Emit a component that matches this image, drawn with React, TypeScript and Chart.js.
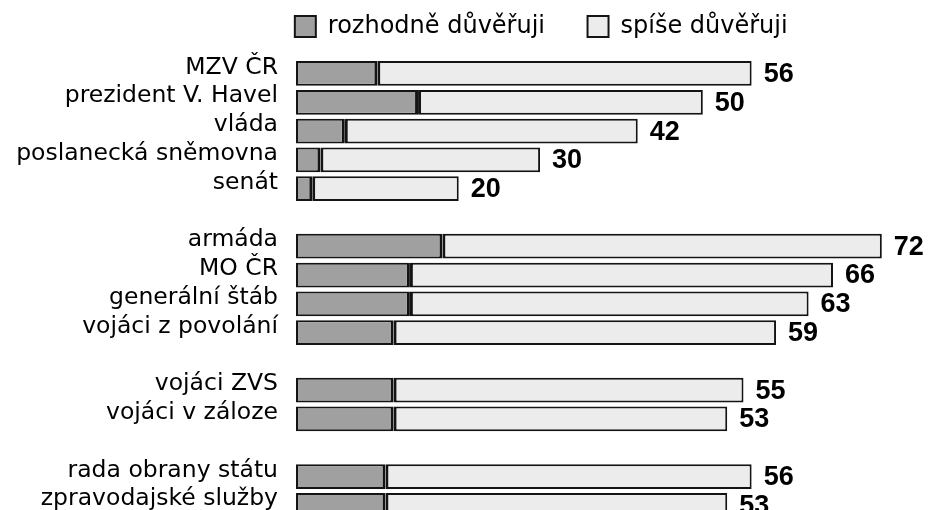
import React, { useEffect, useRef } from "react";
import { Chart, registerables } from "chart.js";

Chart.register(...registerables);

const categories: string[] = [
  "MZV ČR",
  "prezident V. Havel",
  "vláda",
  "poslanecká sněmovna",
  "senát",
  "",
  "armáda",
  "MO ČR",
  "generální štáb",
  "vojáci z povolání",
  "",
  "vojáci ZVS",
  "vojáci v záloze",
  "",
  "rada obrany státu",
  "zpravodajské služby",
];

const seriesNames: string[] = ["rozhodně důvěřuji", "spíše důvěřuji"];

const rozhodne: (number | null)[] = [10, 15, 6, 3, 2, null, 18, 14, 14, 12, null, 12, 12, null, 11, 11];
const spise: (number | null)[] = [46, 35, 36, 27, 18, null, 54, 52, 49, 47, null, 43, 41, null, 45, 42];
const totals: (number | null)[] = [56, 50, 42, 30, 20, null, 72, 66, 63, 59, null, 55, 53, null, 56, 53];

const totalLabelsPlugin = {
  id: "totalLabels",
  afterDatasetsDraw(chart: any) {
    const ctx = chart.ctx;
    const xs = chart.scales.x;
    const ys = chart.scales.y;
    ctx.save();
    ctx.font = "bold 27px 'Liberation Sans', Arial, sans-serif";
    ctx.fillStyle = "#000";
    ctx.textAlign = "left";
    ctx.textBaseline = "middle";
    totals.forEach((t, i) => {
      if (t == null) return;
      const x = xs.getPixelForValue(t);
      const y = ys.getPixelForValue(i);
      ctx.fillText(String(t), x + 12, y + 1);
    });
    ctx.restore();
  },
};

// shift the legend box so that it is centred where the original one is
const legendShiftPlugin = {
  id: "legendShift",
  afterLayout(chart: any) {
    if (chart.legend) {
      chart.legend.left = 160;
    }
  },
};

export default function App() {
  const ref = useRef<HTMLCanvasElement | null>(null);

  useEffect(() => {
    if (!ref.current) return;
    const chart = new Chart(ref.current, {
      type: "bar",
      data: {
        labels: categories,
        datasets: [
          {
            label: seriesNames[0],
            data: rozhodne,
            backgroundColor: "#a0a0a0",
            borderColor: "#141414",
            borderWidth: { left: 2, top: 2, bottom: 2, right: 3 },
            borderSkipped: false,
            inflateAmount: 0,
            barPercentage: 0.86,
            categoryPercentage: 1,
          },
          {
            label: seriesNames[1],
            data: spise,
            backgroundColor: "#ececec",
            borderColor: "#141414",
            borderWidth: { left: 3, top: 2, bottom: 2, right: 2 },
            borderSkipped: false,
            inflateAmount: 0,
            barPercentage: 0.86,
            categoryPercentage: 1,
          },
        ],
      },
      options: {
        indexAxis: "y",
        animation: false,
        responsive: false,
        devicePixelRatio: 1,
        layout: {
          padding: { left: 0, right: 5.5, top: 2.5, bottom: 4.3 },
        },
        plugins: {
          tooltip: { enabled: false },
          legend: {
            display: true,
            position: "top",
            align: "center",
            labels: {
              boxWidth: 21,
              boxHeight: 21,
              padding: 12,
              color: "#000",
              font: { family: "'DejaVu Sans', sans-serif", size: 24 },
              generateLabels: (c: any) => {
                const items = Chart.defaults.plugins.legend.labels.generateLabels(c);
                return items.map((it: any, i: number) =>
                  i === 0
                    ? { ...it, text: it.text + "    ", lineWidth: 2 }
                    : { ...it, lineWidth: 2 }
                );
              },
            },
          },
        },
        scales: {
          x: {
            type: "linear",
            position: "top",
            stacked: true,
            min: 0,
            max: 77,
            grid: { display: false, drawTicks: false },
            border: { display: false },
            ticks: { display: false },
            afterFit: (s: any) => {
              s.height = 10.6;
            },
          },
          y: {
            type: "category",
            stacked: true,
            grid: { display: false, drawTicks: false },
            border: { display: false },
            ticks: {
              autoSkip: false,
              color: "#000",
              padding: 18,
              labelOffset: -6,
              font: { family: "'DejaVu Sans', sans-serif", size: 23.5 },
            },
            afterFit: (s: any) => {
              s.width = 296;
              s.paddingTop = 0;
              s.paddingBottom = 0;
            },
          },
        },
      },
      plugins: [totalLabelsPlugin, legendShiftPlugin],
    } as any);
    return () => chart.destroy();
  }, []);

  return (
    <div
      style={{
        position: "fixed",
        left: 0,
        top: 0,
        width: 928,
        height: 510,
        overflow: "hidden",
        background: "#fff",
      }}
    >
      <canvas ref={ref} width={928} height={524} style={{ width: 928, height: 524, display: "block" }} />
    </div>
  );
}
